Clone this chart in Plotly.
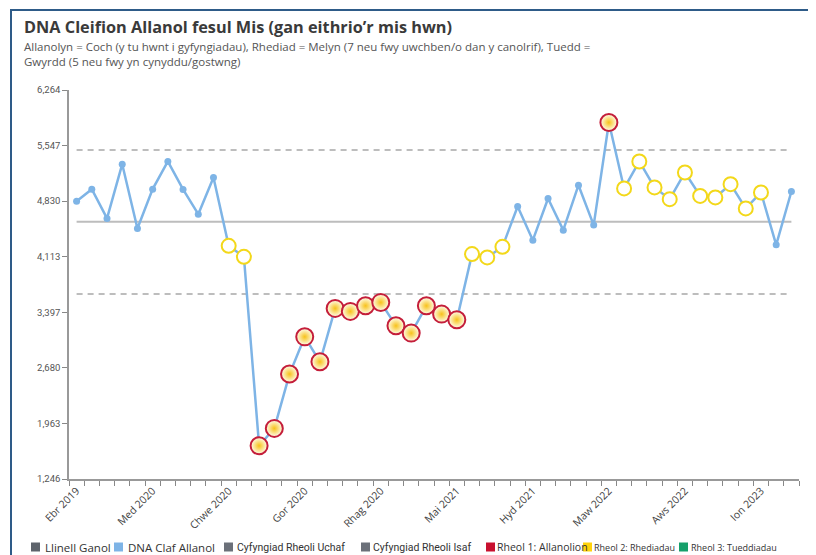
import plotly.graph_objects as go

# ---------------- data ----------------
months = ["Ebr 2019", "Mai 2019", "Meh 2019", "Gor 2019", "Aws 2019", "Med 2019",
          "Hyd 2019", "Tach 2019", "Rhag 2019", "Ion 2020", "Chwe 2020", "Maw 2020",
          "Ebr 2020", "Mai 2020", "Meh 2020", "Gor 2020", "Aws 2020", "Med 2020",
          "Hyd 2020", "Tach 2020", "Rhag 2020", "Ion 2021", "Chwe 2021", "Maw 2021",
          "Ebr 2021", "Mai 2021", "Meh 2021", "Gor 2021", "Aws 2021", "Med 2021",
          "Hyd 2021", "Tach 2021", "Rhag 2021", "Ion 2022", "Chwe 2022", "Maw 2022",
          "Ebr 2022", "Mai 2022", "Meh 2022", "Gor 2022", "Aws 2022", "Med 2022",
          "Hyd 2022", "Tach 2022", "Rhag 2022", "Ion 2023", "Chwe 2023", "Maw 2023"]

dna_values = [4830, 4985, 4607, 5307, 4478, 4985, 5342, 4981, 4662, 5136,
              4254, 4112, 1675, 1899, 2600, 3080, 2758, 3447, 3408, 3480,
              3524, 3222, 3128, 3480, 3373, 3300, 4147, 4104, 4241, 4762,
              4327, 4865, 4456, 5036, 4521, 5845, 4994, 5342, 5007, 4856,
              5200, 4898, 4878, 5049, 4736, 4942, 4267, 4955]

centre_value = 4563
upper_limit_value = 5491
lower_limit_value = 3631

# points flagged by rule 1 (outliers) and rule 2 (runs)
rule1_months = ["Ebr 2020", "Mai 2020", "Meh 2020", "Gor 2020", "Aws 2020", "Med 2020",
                "Hyd 2020", "Tach 2020", "Rhag 2020", "Ion 2021", "Chwe 2021", "Maw 2021",
                "Ebr 2021", "Mai 2021", "Maw 2022"]
rule2_months = ["Chwe 2020", "Maw 2020", "Meh 2021", "Gor 2021", "Aws 2021",
                "Ebr 2022", "Mai 2022", "Meh 2022", "Gor 2022", "Aws 2022",
                "Med 2022", "Hyd 2022", "Tach 2022", "Rhag 2022", "Ion 2023"]

tick_label_months = ["Ebr 2019", "Med 2019", "Chwe 2020", "Gor 2020", "Rhag 2020",
                     "Mai 2021", "Hyd 2021", "Maw 2022", "Aws 2022", "Ion 2023"]
tick_label_texts = ["Ebr 2019", "Med 2020", "Chwe 2020", "Gor 2020", "Rhag 2020",
                    "Mai 2021", "Hyd 2021", "Maw 2022", "Aws 2022", "Ion 2023"]

y_tick_values = [1246, 1963, 2680, 3397, 4113, 4830, 5547, 6264]
y_tick_texts = ["1,246", "1,963", "2,680", "3,397", "4,113", "4,830", "5,547", "6,264"]

legend_items = ["Llinell Ganol", "DNA Claf Allanol", "Cyfyngiad Rheoli Uchaf",
                "Cyfyngiad Rheoli Isaf", "Rheol 1: Allanolion", "Rheol 2: Rhediadau",
                "Rheol 3: Tueddiadau"]

title_text = "DNA Cleifion Allanol fesul Mis (gan eithrio’r mis hwn)"
subtitle_lines = ["Allanolyn = Coch (y tu hwnt i gyfyngiadau), Rhediad = Melyn (7 neu fwy uwchben/o dan y canolrif), Tuedd =",
                  "Gwyrdd (5 neu fwy yn cynyddu/gostwng)"]

# ---------------- layout geometry ----------------
# page body has an 8px margin, so work in screen pixels minus 8
OFF = 8
W, H = 816 - OFF, 555 - OFF
PLOT_L, PLOT_R, PLOT_T, PLOT_B = 69, 799, 90, 479  # screen pixels
ML, MR, MT, MB = PLOT_L - OFF, W - (PLOT_R - OFF), PLOT_T - OFF, H - (PLOT_B - OFF)
PW, PH = W - ML - MR, H - MT - MB


def px(x):
    return (x - OFF - ML) / PW


def py(y):
    return (H - MB - (y - OFF)) / PH


BLUE = "#7eb4e6"
GREY_LINE = "#bdbdbd"
YELLOW = "#f3d81a"
RED = "#c41e3a"

fig = go.Figure()

fig.add_trace(go.Scatter(x=months, y=[centre_value] * len(months), mode="lines",
                         line=dict(color=GREY_LINE, width=2), name=legend_items[0],
                         hoverinfo="skip"))
fig.add_trace(go.Scatter(x=months, y=[upper_limit_value] * len(months), mode="lines",
                         line=dict(color=GREY_LINE, width=2, dash="6px,5px"),
                         name=legend_items[2], hoverinfo="skip"))
fig.add_trace(go.Scatter(x=months, y=[lower_limit_value] * len(months), mode="lines",
                         line=dict(color=GREY_LINE, width=2, dash="6px,5px"),
                         name=legend_items[3], hoverinfo="skip"))
fig.add_trace(go.Scatter(x=months, y=dna_values, mode="lines+markers",
                         line=dict(color=BLUE, width=2.5),
                         marker=dict(color=BLUE, size=7), name=legend_items[1]))

r2x = [m for m in rule2_months]
r2y = [dna_values[months.index(m)] for m in rule2_months]
fig.add_trace(go.Scatter(x=r2x, y=r2y, mode="markers", name=legend_items[5],
                         marker=dict(size=14, color="white",
                                     line=dict(color=YELLOW, width=2))))
r1x = [m for m in rule1_months]
r1y = [dna_values[months.index(m)] for m in rule1_months]
fig.add_trace(go.Scatter(x=r1x, y=r1y, mode="markers", name=legend_items[4],
                         marker=dict(size=17, color="#fffdf0",
                                     gradient=dict(type="radial", color="#f7c21a"),
                                     line=dict(color=RED, width=2))))

annotations = []
annotations.append(dict(x=px(22), y=py(27), xref="paper", yref="paper", xanchor="left",
                        yanchor="middle", showarrow=False, text="<b>" + title_text + "</b>",
                        font=dict(family="Open Sans", size=16.3, color="#3a3a3a")))
for i, line in enumerate(subtitle_lines):
    annotations.append(dict(x=px(22), y=py(47 + 15 * i), xref="paper", yref="paper",
                            xanchor="left", yanchor="middle", showarrow=False, text=line,
                            font=dict(family="Open Sans", size=11.5, color="#555555")))

legend_colors = ["#5d636b", "#7eb4e6", "#6b7079", "#6b7079", "#c8102e", "#ffd20a", "#16a06b"]
legend_square_x = [31, 114, 224, 361, 486, 583, 679]
legend_text_x = [43, 126, 235, 371, 495, 592, 689]
legend_sizes = [11.5, 11.5, 10.5, 10.5, 10.5, 9, 9]
legend_fonts = ["Open Sans", "Open Sans", "Roboto", "Roboto",
                "Open Sans", "Open Sans", "Open Sans"]
shapes = []
LY = 547
for name, c, sx, tx, fs, ff in zip(legend_items, legend_colors, legend_square_x,
                                   legend_text_x, legend_sizes, legend_fonts):
    shapes.append(dict(type="rect", xref="paper", yref="paper",
                       x0=px(sx), x1=px(sx + 9), y0=py(LY + 4.5), y1=py(LY - 4.5),
                       fillcolor=c, line=dict(width=0)))
    annotations.append(dict(x=px(tx), y=py(LY), xref="paper", yref="paper",
                            xanchor="left", yanchor="middle", showarrow=False, text=name,
                            font=dict(family=ff, size=fs, color="#333333")))

# frame
shapes.append(dict(type="rect", xref="paper", yref="paper", x0=px(11), x1=px(840),
                   y0=py(580), y1=py(10), line=dict(color="#2e5b88", width=2)))

fig.update_layout(
    width=W, height=H,
    margin=dict(l=ML, r=MR, t=MT, b=MB),
    paper_bgcolor="white", plot_bgcolor="white",
    showlegend=False,
    annotations=annotations,
    shapes=shapes,
    xaxis=dict(type="category", range=[-0.5, len(months) - 0.5],
               tickmode="array", tickvals=months,
               ticktext=[tick_label_texts[tick_label_months.index(m)] if m in tick_label_months else "" for m in months],
               tickson="boundaries", ticks="outside", ticklen=5, tickcolor="#888",
               tickangle=-45, showline=True, linecolor="#999", linewidth=1.5,
               showgrid=False, zeroline=False,
               tickfont=dict(family="Open Sans", size=10.5, color="#444")),
    yaxis=dict(range=[1246, 6264], tickmode="array", tickvals=y_tick_values,
               ticktext=y_tick_texts, ticks="outside", ticklen=5, tickcolor="#888",
               showline=True, linecolor="#999", linewidth=1.5, showgrid=False,
               zeroline=False,
               tickfont=dict(family="Roboto", size=9.5, color="#555")),
)

fig.write_html("out.html")
